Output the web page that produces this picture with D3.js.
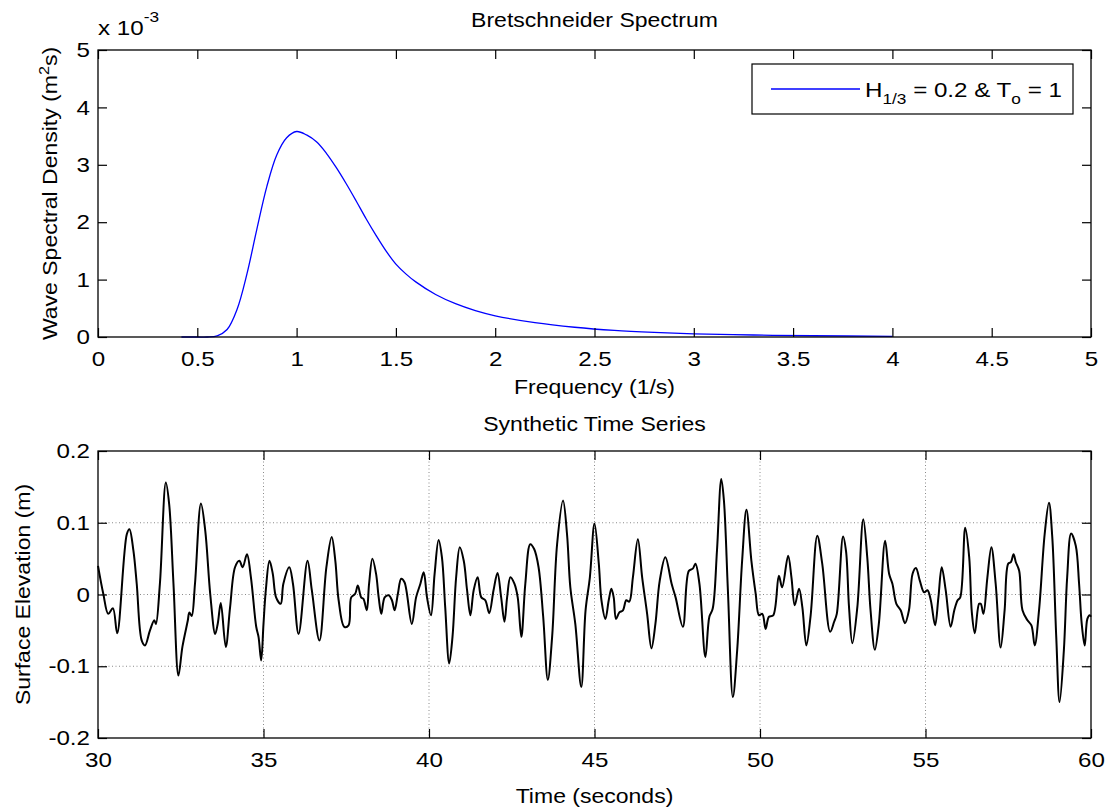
<!DOCTYPE html>
<html>
<head>
<meta charset="utf-8">
<script src="https://cdn.jsdelivr.net/npm/d3@7"></script>
<style>
  body { margin: 0; background: #fff; }
  text { font-family: "Liberation Sans", Arial, sans-serif; fill: #000; }
</style>
</head>
<body>
<svg id="fig"></svg>
<script>
// spectrum (density in units of 1e-3 m^2 s)
const specFreq = [0.42, 0.5, 0.55, 0.6, 0.65, 0.7, 0.75, 0.8, 0.85, 0.9, 0.95, 1.0, 1.05, 1.1, 1.15, 1.2,
    1.25, 1.3, 1.35, 1.4, 1.45, 1.5, 1.55, 1.6, 1.7, 1.8, 1.9, 2.0, 2.2, 2.4, 2.6, 2.8, 3.0, 3.3, 3.6, 4.0];
const specDens = [0, 0, 0, 0.02, 0.13, 0.48, 1.1, 1.88, 2.62, 3.17, 3.47, 3.58, 3.52, 3.40, 3.2, 2.95,
    2.67, 2.37, 2.06, 1.77, 1.50, 1.27, 1.10, 0.96, 0.74, 0.58, 0.46, 0.37, 0.25, 0.17, 0.115, 0.08, 0.055, 0.035, 0.022, 0.012];

// synthetic time series, [time (s), elevation (m)]
const elevation = [
    [30.00, 0.040], [30.16, 0.001], [30.31, -0.027], [30.45, -0.019], [30.58, -0.054], [30.87, 0.084],
    [30.95, 0.091], [31.07, 0.061], [31.17, 0.015], [31.32, -0.064], [31.42, -0.071], [31.57, -0.050],
    [31.70, -0.036], [31.75, -0.041], [31.87, 0.015], [32.05, 0.156], [32.15, 0.126], [32.28, 0.015],
    [32.43, -0.113], [32.55, -0.073], [32.71, -0.037], [32.76, -0.025], [32.83, -0.030], [32.93, 0.015],
    [33.11, 0.127], [33.24, 0.089], [33.39, 0.001], [33.54, -0.055], [33.62, -0.040], [33.71, -0.012],
    [33.86, -0.073], [33.99, -0.018], [34.14, 0.038], [34.27, 0.047], [34.37, 0.038], [34.50, 0.056],
    [34.62, 0.024], [34.78, -0.045], [34.85, -0.059], [34.93, -0.092], [35.00, -0.041], [35.07, 0.006],
    [35.18, 0.047], [35.28, 0.029], [35.38, -0.004], [35.52, -0.013], [35.60, 0.015], [35.78, 0.038],
    [35.89, 0.015], [36.06, -0.055], [36.33, 0.047], [36.46, 0.006], [36.69, -0.064], [36.90, 0.038],
    [37.06, 0.080], [37.17, 0.047], [37.27, -0.008], [37.44, -0.045], [37.57, -0.043], [37.65, -0.004],
    [37.77, 0.001], [37.85, 0.0125], [37.95, -0.004], [38.02, -0.006], [38.12, -0.022], [38.19, 0.015],
    [38.29, 0.050], [38.40, 0.029], [38.48, -0.004], [38.56, -0.027], [38.66, -0.004], [38.78, -0.001],
    [38.88, -0.008], [38.96, -0.022], [39.06, 0.001], [39.16, 0.022], [39.26, 0.017], [39.48, -0.041],
    [39.61, -0.004], [39.74, 0.015], [39.84, 0.031], [39.94, -0.004], [40.06, -0.029], [40.17, 0.029],
    [40.29, 0.076], [40.39, 0.052], [40.49, -0.018], [40.61, -0.096], [40.71, -0.059], [40.82, 0.024],
    [40.93, 0.066], [41.05, 0.047], [41.15, 0.006], [41.25, -0.029], [41.35, 0.006], [41.47, 0.024],
    [41.58, -0.004], [41.70, -0.008], [41.82, -0.026], [41.95, 0.006], [42.07, 0.030], [42.18, -0.004],
    [42.28, -0.038], [42.36, -0.004], [42.46, 0.024], [42.58, 0.015], [42.68, -0.004], [42.79, -0.059],
    [42.91, 0.015], [43.06, 0.070], [43.18, 0.063], [43.31, 0.038], [43.45, -0.031], [43.59, -0.119],
    [43.72, -0.059], [43.87, 0.070], [44.05, 0.131], [44.17, 0.084], [44.27, 0.010], [44.42, -0.041],
    [44.60, -0.129], [44.73, -0.022], [44.86, 0.024], [45.00, 0.099], [45.13, 0.043], [45.21, -0.008],
    [45.33, -0.034], [45.43, -0.008], [45.51, 0.008], [45.58, -0.004], [45.65, -0.034], [45.75, -0.025],
    [45.86, -0.022], [45.96, -0.008], [46.05, -0.010], [46.16, 0.024], [46.31, 0.077], [46.44, 0.024],
    [46.59, -0.027], [46.72, -0.075], [46.84, -0.041], [46.97, 0.019], [47.14, 0.052], [47.33, 0.015],
    [47.45, -0.004], [47.67, -0.045], [47.85, 0.033], [47.97, 0.036], [48.05, 0.043], [48.17, 0.015],
    [48.35, -0.087], [48.47, -0.031], [48.57, -0.020], [48.70, 0.061], [48.83, 0.161], [48.91, 0.131],
    [49.03, 0.006], [49.18, -0.143], [49.31, -0.078], [49.46, 0.047], [49.59, 0.118], [49.74, 0.047],
    [49.87, 0.001], [49.97, -0.029], [50.07, -0.027], [50.17, -0.048], [50.27, -0.031], [50.40, -0.029],
    [50.57, 0.026], [50.67, 0.010], [50.85, 0.054], [50.95, 0.024], [51.05, -0.015], [51.18, 0.008],
    [51.28, -0.018], [51.40, -0.071], [51.53, -0.029], [51.73, 0.082], [51.88, 0.043], [52.12, -0.052],
    [52.24, -0.038], [52.32, -0.027], [52.51, 0.081], [52.60, 0.060], [52.69, -0.018], [52.79, -0.068],
    [52.94, -0.018], [53.12, 0.105], [53.24, 0.052], [53.34, -0.022], [53.47, -0.077], [53.59, -0.041],
    [53.78, 0.075], [53.90, 0.029], [54.00, 0.015], [54.12, -0.013], [54.25, -0.022], [54.38, -0.040],
    [54.50, -0.022], [54.61, 0.029], [54.71, 0.037], [54.83, 0.019], [54.96, 0.003], [55.06, 0.006],
    [55.16, -0.008], [55.29, -0.043], [55.39, -0.004], [55.49, 0.038], [55.61, 0.006], [55.76, -0.045],
    [55.87, -0.022], [55.97, -0.008], [56.05, -0.004], [56.20, 0.093], [56.32, 0.052], [56.40, -0.025],
    [56.49, -0.054], [56.62, -0.013], [56.67, -0.013], [56.75, -0.027], [56.87, 0.024], [56.99, 0.066],
    [57.12, 0.015], [57.27, -0.074], [57.39, -0.022], [57.50, 0.043], [57.58, 0.045], [57.66, 0.056],
    [57.73, 0.045], [57.83, 0.033], [57.93, -0.022], [58.08, -0.036], [58.20, -0.043], [58.30, -0.071],
    [58.43, -0.022], [58.60, 0.084], [58.73, 0.128], [58.83, 0.080], [58.95, -0.059], [59.05, -0.150],
    [59.18, -0.078], [59.28, 0.024], [59.40, 0.085], [59.54, 0.068], [59.64, 0.015], [59.72, -0.041],
    [59.81, -0.071], [59.89, -0.034], [59.96, -0.029], [60.00, -0.031]
];

const freqTicks = [0, 0.5, 1, 1.5, 2, 2.5, 3, 3.5, 4, 4.5, 5];
const densTicks = [0, 1, 2, 3, 4, 5];
const timeTicks = [30, 35, 40, 45, 50, 55, 60];
const elevTicks = [-0.2, -0.1, 0, 0.1, 0.2];

const W = 1107, H = 810;
const left = 98, right = 1091;
const top1 = 50, bot1 = 337;
const top2 = 451, bot2 = 738;
const tickLen = 9;
const fs = 21;     // tick label size
const lfs = 20;    // label / title size
const stretch = 1.15;  // the original text is wider than Liberation Sans

const svg = d3.select("#fig").attr("width", W).attr("height", H);
svg.append("rect").attr("width", W).attr("height", H).attr("fill", "#fff");

// draws box + inward ticks on all four sides
function frame(x, y, xt, yt, xfmt, yfmt) {
    const [y0, y1] = y.range();
    svg.append("g").attr("transform", `translate(0,${y0})`)
        .call(d3.axisBottom(x).tickValues(xt).tickSize(-tickLen).tickSizeOuter(0).tickPadding(14).tickFormat(xfmt))
        .call(g => g.select(".domain").remove());
    svg.append("g").attr("transform", `translate(0,${y1})`)
        .call(d3.axisTop(x).tickValues(xt).tickSize(-tickLen).tickSizeOuter(0).tickFormat(""))
        .call(g => g.select(".domain").remove());
    svg.append("g").attr("transform", `translate(${left},0)`)
        .call(d3.axisLeft(y).tickValues(yt).tickSize(-tickLen).tickSizeOuter(0).tickPadding(8).tickFormat(yfmt))
        .call(g => g.select(".domain").remove());
    svg.append("g").attr("transform", `translate(${right},0)`)
        .call(d3.axisRight(y).tickValues(yt).tickSize(-tickLen).tickSizeOuter(0).tickFormat(""))
        .call(g => g.select(".domain").remove());
    svg.selectAll(".tick line").attr("stroke", "#000").attr("stroke-width", 1.2);
    svg.selectAll(".tick text").attr("font-size", fs);
    svg.append("rect")
        .attr("x", left).attr("y", y1)
        .attr("width", right - left).attr("height", y0 - y1)
        .attr("fill", "none").attr("stroke", "#000").attr("stroke-width", 1.3);
}

/*------------------------ top: spectrum ------------------------*/
const x1 = d3.scaleLinear().domain([0, 5]).range([left, right]);
const y1 = d3.scaleLinear().domain([0, 5]).range([bot1, top1]);

const spec = specFreq.map((f, i) => ({ f: f, s: specDens[i] }));
svg.append("path")
    .datum(spec)
    .attr("fill", "none")
    .attr("stroke", "#0000ff")
    .attr("stroke-width", 1.3)
    .attr("d", d3.line().x(d => x1(d.f)).y(d => y1(d.s)).curve(d3.curveCatmullRom.alpha(0.5)));

frame(x1, y1, freqTicks, densTicks, d => d, d => d);

// exponent marker
const ex = svg.append("text").attr("x", left).attr("y", 35).attr("font-size", fs);
ex.append("tspan").text("x 10");
ex.append("tspan").attr("dy", -13).attr("font-size", 15).text("-3");

svg.append("text")
    .attr("x", (left + right) / 2).attr("y", 27)
    .attr("text-anchor", "middle").attr("font-size", lfs)
    .text("Bretschneider Spectrum");

svg.append("text")
    .attr("x", (left + right) / 2).attr("y", 394)
    .attr("text-anchor", "middle").attr("font-size", lfs)
    .text("Frequency (1/s)");

const yl1 = svg.append("text")
    .attr("transform", `translate(57,${(top1 + bot1) / 2}) rotate(-90)`)
    .attr("text-anchor", "middle").attr("font-size", lfs);
yl1.append("tspan").text("Wave Spectral Density (m");
yl1.append("tspan").attr("dy", -8).attr("font-size", 14).text("2");
yl1.append("tspan").attr("dy", 8).text("s)");

// legend
const lg = svg.append("g");
lg.append("rect")
    .attr("x", 752).attr("y", 64).attr("width", 321).attr("height", 50)
    .attr("fill", "#fff").attr("stroke", "#000").attr("stroke-width", 1.2);
lg.append("line")
    .attr("x1", 771).attr("x2", 860).attr("y1", 89).attr("y2", 89)
    .attr("stroke", "#0000ff").attr("stroke-width", 1.3);
const lt = lg.append("text").attr("x", 865).attr("y", 97).attr("font-size", fs);
lt.append("tspan").text("H");
lt.append("tspan").attr("dy", 7).attr("font-size", 15).text("1/3");
lt.append("tspan").attr("dy", -7).text(" = 0.2 & T");
lt.append("tspan").attr("dy", 7).attr("font-size", 15).text("o");
lt.append("tspan").attr("dy", -7).text(" = 1");

/*------------------------ bottom: time series ------------------------*/
const x2 = d3.scaleLinear().domain([30, 60]).range([left, right]);
const y2 = d3.scaleLinear().domain([-0.2, 0.2]).range([bot2, top2]);

// dotted grid
const grid = svg.append("g")
    .attr("stroke", "#8a8a8a").attr("stroke-width", 1).attr("stroke-dasharray", "1,2.5");
grid.selectAll(".gx").data(timeTicks.slice(1, -1)).join("line")
    .attr("x1", d => x2(d)).attr("x2", d => x2(d))
    .attr("y1", top2).attr("y2", bot2);
grid.selectAll(".gy").data(elevTicks.slice(1, -1)).join("line")
    .attr("x1", left).attr("x2", right)
    .attr("y1", d => y2(d)).attr("y2", d => y2(d));

svg.append("path")
    .datum(elevation)
    .attr("fill", "none")
    .attr("stroke", "#000")
    .attr("stroke-width", 2)
    .attr("stroke-linejoin", "round")
    .attr("d", d3.line().x(d => x2(d[0])).y(d => y2(d[1])).curve(d3.curveCatmullRom.alpha(0.5)));

frame(x2, y2, timeTicks, elevTicks, d => d, d => d);

svg.append("text")
    .attr("x", (left + right) / 2).attr("y", 431)
    .attr("text-anchor", "middle").attr("font-size", lfs)
    .text("Synthetic Time Series");

svg.append("text")
    .attr("x", (left + right) / 2).attr("y", 803)
    .attr("text-anchor", "middle").attr("font-size", lfs)
    .text("Time (seconds)");

svg.append("text")
    .attr("transform", `translate(30,${(top2 + bot2) / 2}) rotate(-90)`)
    .attr("text-anchor", "middle").attr("font-size", lfs)
    .text("Surface Elevation (m)");

// widen all text a bit to match the original's glyph widths
svg.selectAll("text").each(function() {
    const L = this.getComputedTextLength();
    if (L > 0) d3.select(this).attr("textLength", L * stretch).attr("lengthAdjust", "spacingAndGlyphs");
});
</script>
</body>
</html>
